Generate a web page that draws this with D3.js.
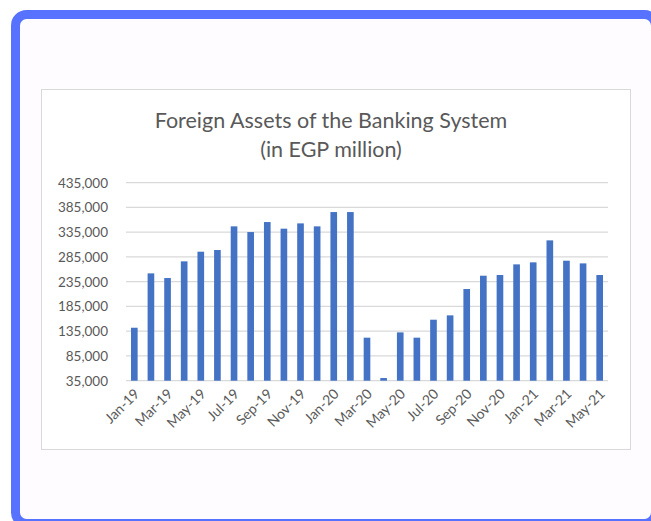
<!DOCTYPE html>
<html>
<head>
<meta charset="utf-8">
<script src="https://cdn.jsdelivr.net/npm/d3@7"></script>
<style>
  html, body { margin: 0; padding: 0; background: #ffffff; }
  svg { display: block; }
  text { font-family: Lato, "Open Sans", sans-serif; fill: #595959; }
</style>
</head>
<body>
<svg id="chart" width="651" height="521"></svg>
<script>
// Monthly foreign assets of the banking system, EGP million
const months = [
  "Jan-19","Feb-19","Mar-19","Apr-19","May-19","Jun-19","Jul-19","Aug-19","Sep-19","Oct-19","Nov-19","Dec-19",
  "Jan-20","Feb-20","Mar-20","Apr-20","May-20","Jun-20","Jul-20","Aug-20","Sep-20","Oct-20","Nov-20","Dec-20",
  "Jan-21","Feb-21","Mar-21","Apr-21","May-21"
];
const foreignAssets = [
  142000, 251800, 242400, 276100, 295600, 299000, 346800, 335300, 355500, 342100, 352800, 346800,
  375700, 375700, 121900, 40400, 132600, 121900, 158200, 167000, 220200, 247100, 248500, 270000,
  274100, 318500, 277400, 272000, 248500
];
const yTicks = [35000, 85000, 135000, 185000, 235000, 285000, 335000, 385000, 435000];
const titleLines = ["Foreign Assets of the Banking System", "(in EGP million)"];

const svg = d3.select("#chart");

// Rounded panel frame
svg.append("rect")
  .attr("x", 15.5).attr("y", 14.5)
  .attr("width", 640).attr("height", 509)
  .attr("rx", 11).attr("ry", 11)
  .attr("fill", "#fefcfe")
  .attr("stroke", "#5672ff")
  .attr("stroke-width", 9);

// Chart box
svg.append("rect")
  .attr("x", 41.5).attr("y", 89.5)
  .attr("width", 589).attr("height", 360)
  .attr("fill", "#ffffff")
  .attr("stroke", "#d9d9d9")
  .attr("stroke-width", 1);

// Title
const title = svg.append("text")
  .attr("text-anchor", "middle")
  .style("font-size", "21.5px")
  .style("font-weight", 400);
titleLines.forEach((line, i) => {
  title.append("tspan")
    .attr("x", 331)
    .attr("y", 128 + i * 29)
    .text(line);
});

const plot = { left: 126, right: 608, top: 182.7, bottom: 380.7 };

const x = d3.scaleBand()
  .domain(months)
  .range([plot.left, plot.right])
  .paddingInner(0.6)
  .paddingOuter(0.3);

const y = d3.scaleLinear()
  .domain([35000, 435000])
  .range([plot.bottom, plot.top]);

// Gridlines
svg.append("g")
  .selectAll("line")
  .data(yTicks)
  .join("line")
  .attr("x1", plot.left).attr("x2", plot.right)
  .attr("y1", d => y(d)).attr("y2", d => y(d))
  .attr("stroke", "#d9d9d9")
  .attr("stroke-width", 1.3);

// Y axis labels
const yAxis = d3.axisLeft(y)
  .tickValues(yTicks)
  .tickSize(0)
  .tickPadding(18)
  .tickFormat(d3.format(","));
svg.append("g")
  .attr("transform", `translate(${plot.left},0)`)
  .call(yAxis)
  .call(g => g.select(".domain").remove())
  .call(g => g.selectAll("text")
    .style("font-size", "13.5px")
    .style("font-family", "Lato, 'Open Sans', sans-serif")
    .attr("fill", "#595959"));

// Bars
svg.append("g")
  .selectAll("rect")
  .data(months.map((m, i) => ({ m, v: foreignAssets[i] })))
  .join("rect")
  .attr("x", d => x(d.m))
  .attr("width", x.bandwidth())
  .attr("y", d => y(d.v))
  .attr("height", d => y(35000) - y(d.v))
  .attr("fill", "#4472c4");

// X axis labels (every other month), rotated
const xAxis = d3.axisBottom(x)
  .tickValues(months.filter((m, i) => i % 2 === 0))
  .tickSize(0)
  .tickPadding(0);
svg.append("g")
  .attr("transform", `translate(0,${plot.bottom})`)
  .call(xAxis)
  .call(g => g.select(".domain").remove())
  .call(g => g.selectAll(".tick text")
    .attr("text-anchor", "end")
    .attr("dy", null)
    .attr("x", 0)
    .attr("y", 0)
    .attr("transform", "translate(6,14) rotate(-45)")
    .style("font-size", "14px")
    .style("font-family", "Lato, 'Open Sans', sans-serif")
    .attr("fill", "#595959"));
</script>
</body>
</html>
